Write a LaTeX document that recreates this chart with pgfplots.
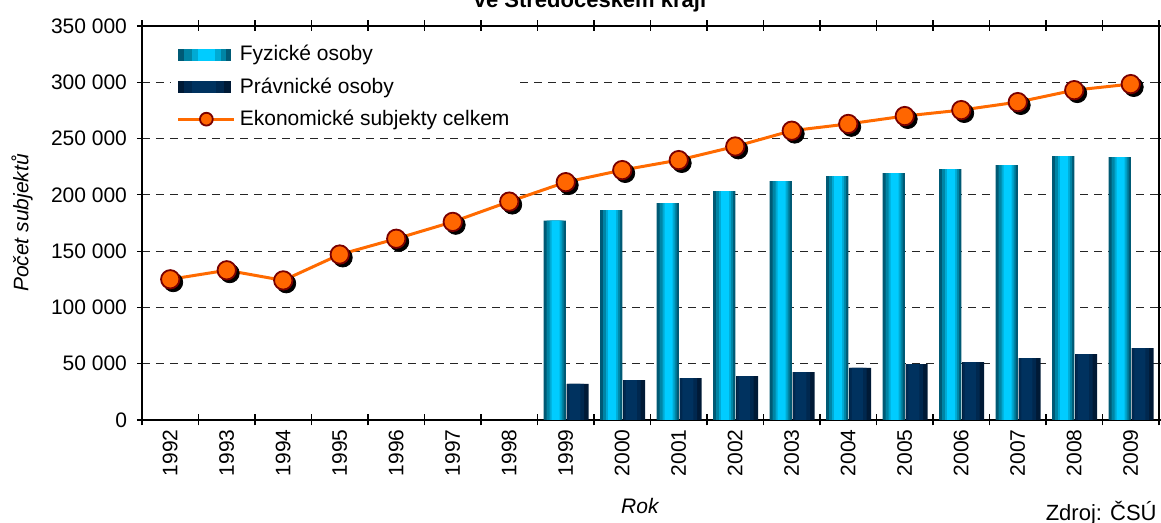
\documentclass[border=0pt]{standalone}
\usepackage{pgfplots}
\usepackage{pgfplotstable}
\pgfplotsset{compat=1.18}
\usepackage{fontspec}
\setmainfont{Liberation Sans}

\definecolor{fyzdark}{HTML}{005A75}
\definecolor{fyzmid}{HTML}{0085A5}
\definecolor{fyzlite}{HTML}{00AAD4}
\definecolor{fyzlight}{HTML}{00CCFF}
\definecolor{pravdark}{HTML}{001A36}
\definecolor{pravmid}{HTML}{00284F}
\definecolor{pravlite}{HTML}{00325F}
\definecolor{lineor}{HTML}{FF6A00}
\definecolor{markedge}{HTML}{7A0000}
\definecolor{markfill}{HTML}{FF6600}

\pgfplotstableread{
x y
7 177000
8 186500
9 192700
10 203400
11 212200
12 216700
13 219300
14 222900
15 226400
16 234400
17 233500
}\fyz

\pgfplotstableread{
x y
7 32000
8 35500
9 37300
10 39000
11 42600
12 46200
13 49700
14 51500
15 55000
16 58600
17 63900
}\prav

\pgfplotstableread{
x y
0 125000
1 133000
2 124000
3 147000
4 161000
5 176000
6 194000
7 211300
8 222000
9 230900
10 243000
11 257000
12 263000
13 270000
14 275300
15 282400
16 293000
17 298400
}\celkem

\pgfplotsset{
  stripe/.style={ybar, draw=none, forget plot},
  fyzleg/.style={legend image code/.code={
      \fill[fyzdark] (0pt,-3pt) rectangle (26.5pt,3pt);
      \fill[fyzmid] (3pt,-3pt) rectangle (24pt,3pt);
      \fill[fyzlite] (7pt,-3pt) rectangle (21.5pt,3pt);
      \fill[fyzlight] (10pt,-3pt) rectangle (18.5pt,3pt);}},
  pravleg/.style={legend image code/.code={
      \fill[pravdark] (0pt,-3pt) rectangle (26.5pt,3pt);
      \fill[pravmid] (3pt,-3pt) rectangle (23pt,3pt);
      \fill[pravlite] (7pt,-3pt) rectangle (19pt,3pt);}},
  lineleg/.style={legend image code/.code={\draw[##1, mark size=3.2pt, mark repeat=2, mark phase=2]
        plot coordinates {(0pt,0pt) (14pt,0pt) (28pt,0pt)};}},
}

\begin{document}
\begin{tikzpicture}[font=\fontsize{10.5}{12.6}\selectfont]
  \begin{axis}[
      scale only axis,
      width=508.5pt, height=197pt,
      xmin=-0.5, xmax=17.5,
      ymin=0, ymax=350000,
      xtick={0,...,17},
      xticklabels={1992,1993,1994,1995,1996,1997,1998,1999,2000,2001,2002,2003,2004,2005,2006,2007,2008,2009},
      major x tick style={draw=none},
      minor xtick={-0.5,0.5,...,17.5},
      minor tick length=5.5pt,
      major tick length=2.5pt,
      xtick align=center,
      ytick align=outside,
      ytick={0,50000,...,350000},
      scaled y ticks=false,
      /pgf/number format/.cd, fixed, precision=0, 1000 sep={\ }, assume math mode=true,
      /pgfplots/.cd,
      xticklabel style={rotate=90, anchor=east},
      yticklabel style={xshift=-1.5pt},
      tick style={black, line width=0.6pt},
      axis line style={line width=1pt},
      ymajorgrids,
      major grid style={dash pattern=on 4pt off 3pt, black!85, line width=0.6pt},
      xlabel={\textit{Rok}},
      xlabel style={at={(axis description cs:0.49,0)}, anchor=base, yshift=-47pt},
      ylabel={\textit{Počet subjektů}},
      every axis y label/.style={at={([xshift=-60pt]axis description cs:0,0.5)}, rotate=90, anchor=center},
      legend style={at={(0.028,0.972)}, anchor=north west, draw=none, fill=white,
        row sep=2.9pt, legend cell align=left, font=\fontsize{10.5}{12.6}\selectfont},
    ]
    \coordinate (bl) at (rel axis cs:0,0);
    \coordinate (tr) at (rel axis cs:1,1);
    \coordinate (tl) at (rel axis cs:0,1);
    \coordinate (br) at (rel axis cs:1,0);

    % Fyzicke osoby (bar and its lighter stripes)
    \addplot[ybar, draw=none, bar width=11.2pt, bar shift=-5.5pt, fill=fyzdark, fyzleg] table[x=x, y=y] {\fyz};
    \addlegendentry{Fyzické osoby}
    \addplot[stripe, bar width=8.5pt, bar shift=-5.35pt, fill=fyzmid] table[x=x, y=y] {\fyz};
    \addplot[stripe, bar width=6pt, bar shift=-5.1pt, fill=fyzlite] table[x=x, y=y] {\fyz};
    \addplot[stripe, bar width=4pt, bar shift=-5.1pt, fill=fyzlight] table[x=x, y=y] {\fyz};

    % Pravnicke osoby
    \addplot[ybar, draw=none, bar width=11pt, bar shift=5.9pt, fill=pravdark, pravleg] table[x=x, y=y] {\prav};
    \addlegendentry{Právnické osoby}
    \addplot[stripe, bar width=8.5pt, bar shift=4.9pt, fill=pravmid] table[x=x, y=y] {\prav};
    \addplot[stripe, bar width=5.5pt, bar shift=4.6pt, fill=pravlite] table[x=x, y=y] {\prav};

    % shadows of the markers
    \addplot[only marks, forget plot, mark=*, mark size=4.75pt, black,
      mark options={xshift=1.5pt, yshift=-1.5pt}] table[x=x, y=y] {\celkem};

    % Ekonomicke subjekty celkem
    \addplot[lineor, line width=1.5pt, mark=*, mark size=4.6pt,
      mark options={fill=markfill, draw=markedge, line width=0.9pt}, lineleg]
      table[x=x, y=y] {\celkem};
    \addlegendentry{Ekonomické subjekty celkem}
  \end{axis}
  \pgfresetboundingbox
  \useasboundingbox ([xshift=-71pt,yshift=-51.5pt]bl) rectangle ([xshift=1pt,yshift=13pt]tr);
  \node[anchor=base, font=\bfseries\fontsize{11}{13}\selectfont] at ([xshift=224pt,yshift=9pt]tl) {ve Středočeském kraji};
  \node[anchor=base east, inner sep=0pt, font=\fontsize{11}{13}\selectfont] at ([xshift=-1pt,yshift=-50.5pt]br) {Zdroj: ČSÚ};
\end{tikzpicture}
\end{document}
